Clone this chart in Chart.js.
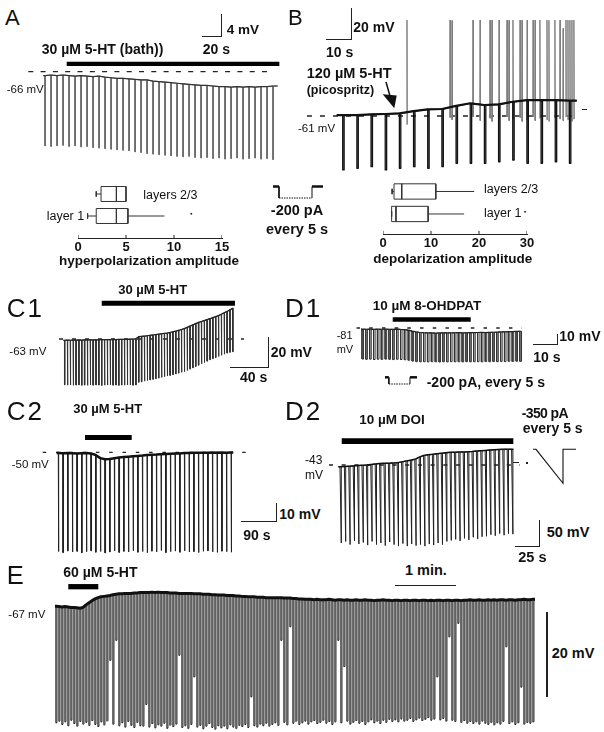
<!DOCTYPE html>
<html>
<head>
<meta charset="utf-8">
<script src="https://cdn.jsdelivr.net/npm/chart.js@4.4.1/dist/chart.umd.min.js"></script>
<style>
  html, body { margin: 0; padding: 0; background: #fff; }
  #fig { position: relative; width: 604px; height: 732px; overflow: hidden; color: #111;
         font-family: 'Liberation Sans', Arial, Helvetica, sans-serif; }
  #fig canvas { position: absolute; }
  .t { position: absolute; white-space: nowrap; line-height: 1; }
  .b { font-weight: bold; }
  .sb { position: absolute; background: #222; }
</style>
</head>
<body>
<div id="fig">
  <!-- A -->
  <div class="t" style="left:5px;top:6.5px;font-size:22px">A</div>
  <div class="t b" style="left:41.7px;top:41.5px;font-size:14px">30 µM 5-HT (bath))</div>
  <div class="t b" style="left:226.7px;top:23.2px;font-size:13.5px">4 mV</div>
  <div class="t b" style="left:202.7px;top:41.5px;font-size:14px">20 s</div>
  <div class="t" style="left:6.7px;top:83.5px;font-size:11.5px">-66 mV</div>
  <div class="sb" style="left:221px;top:14px;width:1.3px;height:22.3px"></div>
  <div class="sb" style="left:202.3px;top:35.5px;width:20px;height:1.3px"></div>

  <!-- B -->
  <div class="t" style="left:288px;top:7px;font-size:22px">B</div>
  <div class="t b" style="left:353.3px;top:20px;font-size:14px">20 mV</div>
  <div class="t b" style="left:326px;top:45px;font-size:14px">10 s</div>
  <div class="t b" style="left:306.7px;top:66.4px;font-size:14.5px">120 µM 5-HT</div>
  <div class="t b" style="left:306.7px;top:84.4px;font-size:12.5px">(picospritz)</div>
  <div class="t" style="left:298px;top:122.5px;font-size:11.5px">-61 mV</div>
  <div class="sb" style="left:351px;top:8.3px;width:1.3px;height:31px"></div>
  <div class="sb" style="left:326px;top:38.8px;width:26.3px;height:1.3px"></div>
  <div class="sb" style="left:582px;top:108.5px;width:5px;height:1.3px"></div>

  <!-- box plots -->
  <div class="t" style="left:143.3px;top:189px;font-size:12.5px">layers 2/3</div>
  <div class="t" style="left:46.7px;top:210px;font-size:12.5px">layer 1</div>
  <div class="t" style="left:484px;top:183.4px;font-size:12.5px">layers 2/3</div>
  <div class="t" style="left:484px;top:206.7px;font-size:12.5px">layer 1</div>
  <div class="t b" style="left:49px;width:200px;text-align:center;top:254.2px;font-size:13.5px">hyperpolarization amplitude</div>
  <div class="t b" style="left:352.7px;width:200px;text-align:center;top:251.5px;font-size:13.5px">depolarization amplitude</div>
  <div class="t b" style="left:247px;width:100px;text-align:center;top:203px;font-size:14.5px">-200 pA</div>
  <div class="t b" style="left:247px;width:100px;text-align:center;top:222px;font-size:14.5px">every 5 s</div>

  <!-- C1 -->
  <div class="t" style="left:6.7px;top:295px;font-size:26px;letter-spacing:2px">C1</div>
  <div class="t b" style="left:118.3px;top:283.3px;font-size:13px">30 µM 5-HT</div>
  <div class="t" style="left:9.3px;top:345.8px;font-size:11.5px">-63 mV</div>
  <div class="t b" style="left:270.7px;top:344.9px;font-size:14px">20 mV</div>
  <div class="t b" style="left:240px;top:370px;font-size:14px">40 s</div>
  <div class="sb" style="left:267.8px;top:336.7px;width:1.3px;height:31.3px"></div>
  <div class="sb" style="left:230px;top:367.2px;width:39px;height:1.3px"></div>

  <!-- C2 -->
  <div class="t" style="left:6.7px;top:398.3px;font-size:26px;letter-spacing:2px">C2</div>
  <div class="t b" style="left:73.3px;top:401.6px;font-size:13px">30 µM 5-HT</div>
  <div class="t" style="left:11.7px;top:458.5px;font-size:11.5px">-50 mV</div>
  <div class="t b" style="left:279.3px;top:506.5px;font-size:14px">10 mV</div>
  <div class="t b" style="left:243.3px;top:528px;font-size:14px">90 s</div>
  <div class="sb" style="left:275.5px;top:503.3px;width:1.3px;height:18.6px"></div>
  <div class="sb" style="left:240.7px;top:521.2px;width:36px;height:1.3px"></div>

  <!-- D1 -->
  <div class="t" style="left:285px;top:295px;font-size:26px;letter-spacing:2px">D1</div>
  <div class="t b" style="left:372.7px;top:299px;font-size:13.5px">10 µM 8-OHDPAT</div>
  <div class="t" style="left:336.7px;top:330.3px;font-size:11px">-81</div>
  <div class="t" style="left:336.7px;top:343.6px;font-size:11px">mV</div>
  <div class="t b" style="left:559.3px;top:329px;font-size:14px">10 mV</div>
  <div class="t b" style="left:533.3px;top:350px;font-size:14px">10 s</div>
  <div class="t b" style="left:426.7px;top:374.9px;font-size:14px">-200 pA, every 5 s</div>
  <div class="sb" style="left:556.8px;top:334px;width:1.3px;height:10.4px"></div>
  <div class="sb" style="left:533.3px;top:343.5px;width:24.7px;height:1.3px"></div>

  <!-- D2 -->
  <div class="t" style="left:285px;top:398.3px;font-size:26px;letter-spacing:2px">D2</div>
  <div class="t b" style="left:359.3px;top:413.3px;font-size:13.5px">10 µM DOI</div>
  <div class="t b" style="left:521.7px;top:406.4px;font-size:14px;letter-spacing:-0.6px">-350 pA</div>
  <div class="t b" style="left:522.7px;top:421px;font-size:14px">every 5 s</div>
  <div class="t" style="left:305px;top:453.5px;font-size:12px">-43</div>
  <div class="t" style="left:305px;top:468.5px;font-size:12px">mV</div>
  <div class="t b" style="left:546.7px;top:524.8px;font-size:14.5px">50 mV</div>
  <div class="t b" style="left:518.3px;top:549.8px;font-size:14.5px">25 s</div>
  <div class="sb" style="left:538.8px;top:520px;width:1.3px;height:26.3px"></div>
  <div class="sb" style="left:515px;top:545.7px;width:25px;height:1.3px"></div>
  <div class="sb" style="left:513px;top:462px;width:6px;height:1.3px"></div>
  <div class="sb" style="left:526px;top:462px;width:1.5px;height:1.5px"></div>

  <!-- E -->
  <div class="t" style="left:6.7px;top:563.4px;font-size:25.5px">E</div>
  <div class="t b" style="left:63.3px;top:564.9px;font-size:14px">60 µM 5-HT</div>
  <div class="t" style="left:8.3px;top:608.5px;font-size:11.5px">-67 mV</div>
  <div class="t b" style="left:405px;top:563px;font-size:14.5px">1 min.</div>
  <div class="t b" style="left:551.7px;top:646.4px;font-size:14.5px">20 mV</div>
  <div class="sb" style="left:395px;top:584.5px;width:60.7px;height:1.3px"></div>
  <div class="sb" style="left:546px;top:611.7px;width:1.5px;height:85px"></div>

  <!-- picospritz arrow in B -->
  <svg width="604" height="732" style="position:absolute;left:0;top:0;pointer-events:none">
    <line x1="386" y1="82" x2="390" y2="96" stroke="#111" stroke-width="1.5"/>
    <polygon points="382.7,94.3 396.7,95.5 394.3,108.3" fill="#111"/>
  </svg>
</div>

<script>
// ---- data ----
// A: bath 5-HT, one hyperpolarising pulse per sweep (mV)
const aBase = [-66.7,-66.6,-66.7,-66.6,-66.7,-66.8,-66.7,-66.8,-66.9,-66.8,-67.0,-67.1,-67.2,
  -67.2,-67.3,-67.4,-67.5,-67.5,-67.7,-67.8,-67.9,-68.0,-68.1,-68.2,-68.3,-68.4,
  -68.5,-68.5,-68.6,-68.7,-68.7,-68.8,-68.7,-68.8,-68.7,-68.8,-68.7,-68.7,-68.6];
const aTrough = [-79.5,-79.6,-79.5,-79.4,-79.6,-79.5,-79.7,-79.6,-79.8,-79.9,-80.0,-80.1,-80.2,
  -80.3,-80.4,-80.6,-80.7,-80.9,-81.0,-81.1,-81.2,-81.3,-81.4,-81.5,-81.4,-81.6,
  -81.7,-81.6,-81.8,-81.7,-81.9,-81.8,-81.7,-81.9,-81.8,-81.7,-81.9,-81.8,-82.0];
const aStart = 1.4, aPeriod = 5, aEnd = 195.3;
const aDrug = [19.5, 196.7];
const aRef = [-12.5, 187];

// B: picospritz 5-HT, pulses + action potentials
const bBase = [-60.4,-60.4,-59.9,-59.7,-59.3,-57.8,-56.7,-56.5,-54.5,-52.8,-53.9,-53.5,-51.8,-50.7,-50.7,-50.7,-51.1];
const bTrough = [-95.8,-94.7,-93.7,-95.8,-94.7,-93.7,-94.7,-93.7,-91.5,-91.5,-91.5,-90.5,-89.4,-91.5,-91.5,-90.5,-91.5];
const bApT = [24.8,40.0,40.7,48.1,50.6,54.1,54.8,57.3,60.1,60.8,62.2,64.7,65.4,67.2,69.3,70.0,71.7,74.2,74.9,77.0,78.8,79.9,80.9,81.6,82.3,83.0,83.7];
const bApPeak = [0.9,0.9,0.6,0.9,0.9,0.8,0.9,0.9,0.9,0.7,0.9,0.9,0.8,0.9,0.9,0.9,0.9,0.9,0.8,0.9,0.9,-4.4,0.9,0.9,0.8,0.9,0.9];
const bApFoot = [-66.5,-62.0,-63.5,-61.5,-64.0,-62.5,-64.5,-63.0,-61.5,-64.0,-63.0,-62.0,-64.5,-63.5,-61.5,-64.0,-62.5,-63.5,-64.5,-62.0,-63.0,-64.0,-61.5,-63.5,-62.5,-64.5,-63.0];
const bStart = 2.12, bPeriod = 5, bEnd = 84.7;
const bRef = [-10.5, 84.5];

// box plots (amplitudes, mV); row 0 = layers 2/3, row 1 = layer 1
const boxRows = ['layers 2/3', 'layer 1'];
const hypLo = [1.9, 1.0], hypQ1 = [2.4, 1.9], hypMed = [4.0, 4.0], hypQ3 = [5.0, 5.2], hypHi = [5.0, 9.0], hypOut = [null, 11.8];
const depLo = [1.9, 1.8], depQ1 = [2.3, 1.8], depMed = [3.9, 2.7], depQ3 = [11.0, 9.4], depHi = [19.0, 16.9], depOut = [null, 29.6];
const hypTicks = [0, 5, 10, 15];
const depTicks = [0, 10, 20, 30];

// current protocols (pA)
const stepT = [0, 6, 6, 39, 39, 50];
const stepI = [0, 0, -200, -200, 0, 0];
const rampT = [0, 3, 30, 30, 43];
const rampI = [0, 0, -350, 0, 0];

// C1
const c1Base = [-63.8,-63.7,-63.8,-63.7,-63.7,-63.6,-63.7,-63.6,-63.6,-63.5,
  -63.6,-63.5,-63.5,-63.4,-63.5,-63.4,-63.4,-63.3,-63.4,-63.3,
  -63.2,-63.3,-63.2,-63.1,-63.0,-62.9,-61.5,-61.3,-61.1,-60.9,
  -60.6,-60.4,-60.1,-59.9,-59.6,-59.4,-59.2,-58.8,-58.3,-57.9,
  -57.4,-56.9,-56.3,-55.5,-54.7,-53.9,-53.1,-52.3,-51.7,-51.1,
  -50.5,-49.9,-49.2,-48.6,-47.9,-47.0,-46.1,-45.2,-44.2,-43.2];
const c1Trough = [-92.6,-92.8,-92.7,-92.9,-92.7,-92.6,-92.8,-92.7,-92.9,-92.7,
  -92.8,-92.6,-92.7,-92.9,-92.8,-92.7,-92.6,-92.8,-92.7,-92.9,
  -92.7,-92.8,-92.6,-92.7,-92.8,-92.6,-90.9,-90.6,-90.2,-89.8,
  -89.4,-89.0,-88.6,-88.2,-87.8,-87.3,-86.9,-86.5,-86.0,-85.5,
  -85.0,-84.5,-84.1,-83.3,-82.4,-81.6,-80.7,-79.9,-79.0,-78.2,
  -77.3,-76.4,-75.7,-75.0,-74.3,-73.5,-72.8,-72.1,-71.6,-71.2];
const c1Start = 2.1, c1Period = 5, c1End = 298.2;
const c1Drug = [67.4, 301.2];
const c1Ref = [-7.5, 317];

// C2
const c2Base = [-50.4,-50.5,-50.4,-50.5,-50.6,-50.5,-50.4,-50.6,
  -51.5,-53.2,-53.8,-53.7,-53.2,-52.8,-52.6,
  -52.4,-52.2,-52.0,-51.8,-51.5,-51.3,-51.2,-51.0,
  -50.9,-50.8,-50.7,-50.6,-50.4,-50.4,-50.3,-50.3,
  -50.2,-50.2,-50.1,-50.2,-50.1,-50.2,-50.1];
const c2Trough = [-104.2,-104.8,-103.9,-104.5,-104.1,-104.9,-104.3,-103.8,-104.6,-104.2,
  -105.0,-104.4,-103.9,-104.7,-104.1,-104.5,-103.8,-104.6,-104.2,-104.9,
  -104.0,-104.4,-103.7,-104.8,-104.3,-104.0,-104.6,-103.9,-104.5,-104.2,
  -104.8,-104.1,-103.8,-104.4,-104.7,-104.0,-104.3,-104.6];
const c2Start = 1.7, c2Period = 5, c2End = 189;
const c2Drug = [30.3, 80.3];
const c2Ref = [-15, 203.7];

// D1
const d1Base = [-82.2,-82.4,-82.3,-82.5,-82.3,-82.4,-82.2,-82.4,-82.5,-82.3,
  -82.6,-82.8,-83.3,-84.4,-85.4,-86.0,-86.3,-86.5,-86.4,-86.6,
  -86.5,-86.3,-86.4,-86.5,-86.3,-86.2,-86.4,-86.3,-86.1,-86.2,
  -86.0,-85.9,-86.1,-85.8,-85.7,-85.6,-85.4,-85.3,-85.1,-85.0,
  -84.8,-84.6];
const d1Trough = [-115.5,-115.8,-115.6,-116.0,-115.7,-115.9,-115.6,-115.8,-116.1,-115.7,
  -116.0,-116.3,-116.9,-117.8,-118.4,-118.6,-118.5,-118.7,-118.4,-118.6,
  -118.8,-118.5,-118.7,-118.4,-118.6,-118.5,-118.7,-118.4,-118.6,-118.5,
  -118.4,-118.6,-118.3,-118.5,-118.2,-118.4,-118.1,-118.3,-118.0,-118.2,
  -117.9,-118.1];
const d1Start = 1.3, d1Period = 5, d1End = 208.7;
const d1Drug = [41.2, 142.5];
const d1Ref = [-5.8, 209];

// D2 (ramp pulses)
const d2Base = [-46.3,-45.8,-45.2,-44.7,-44.1,-43.6,-43.0,-42.0,-41.0,-40.1,
  -39.8,-39.5,-39.1,-38.6,-37.0,-35.4,-33.7,-32.1,-28.0,-24.5,
  -23.5,-22.5,-21.3,-20.5,-19.6,-18.7,-18.4,-18.1,-17.8,-17.5,
  -17.0,-16.2,-15.5,-14.9,-14.2,-13.5,-13.0,-12.8,-12.7,-12.8];
const d2Trough = [-193,-190,-196,-189,-195,-192,-197,-190,-196,-193,
  -198,-191,-196,-199,-194,-199,-195,-198,-196,-199,
  -195,-197,-193,-196,-190,-188,-186,-189,-184,-187,
  -182,-185,-181,-180,-177,-179,-175,-178,-175,-176];
const d2Start = 1.9, d2Period = 5, d2End = 198.9;
const d2Drug = [3.9, 198.9];
const d2Ref = [-10.6, 206.5];

// E
const eBase = [-66.8,-66.9,-67.0,-66.9,-67.0,-67.1,-67.1,-67.2,-67.3,-67.1,
  -66.5,-66.0,-65.5,-65.1,-64.8,-64.6,-64.5,-64.4,-64.3,-64.1,
  -64.0,-63.9,-63.9,-63.8,-63.8,-63.8,-63.7,-63.7,-63.6,-63.6,
  -63.6,-63.6,-63.5,-63.6,-63.5,-63.6,-63.6,-63.6,-63.7,-63.7,
  -63.7,-63.8,-63.8,-63.8,-63.8,-63.8,-63.9,-63.9,-63.9,-64.0,
  -64.0,-64.0,-64.1,-64.1,-64.2,-64.2,-64.2,-64.3,-64.3,-64.3,
  -64.4,-64.4,-64.5,-64.5,-64.6,-64.6,-64.6,-64.7,-64.7,-64.7,
  -64.8,-64.8,-64.8,-64.8,-64.8,-64.8,-64.9,-64.9,-64.9,-65.0,
  -65.0,-65.1,-65.1,-65.2,-65.2,-65.2,-65.3,-65.2,-65.3,-65.3,
  -65.3,-65.2,-65.3,-65.4,-65.3,-65.3,-65.4,-65.3,-65.4,-65.4,
  -65.3,-65.4,-65.4,-65.3,-65.4,-65.4,-65.5,-65.4,-65.4,-65.3,
  -65.4,-65.4,-65.5,-65.4,-65.4,-65.5,-65.4,-65.4,-65.5,-65.4,
  -65.4,-65.5,-65.4,-65.4,-65.5,-65.4,-65.5,-65.4,-65.4,-65.5,
  -65.4,-65.4,-65.5,-65.4,-65.4,-65.5,-65.4,-65.4,-65.3,-65.4,
  -65.4,-65.3,-65.4,-65.4,-65.3,-65.4,-65.3,-65.4,-65.3,-65.3,
  -65.4,-65.3,-65.3,-65.4,-65.3,-65.3,-65.2,-65.3,-65.3,-65.2];
const eTrough = [-94.2,-93.8,-94.6,-94.0,-94.9,-93.6,-94.4,-95.0,-93.9,-94.5,-94.1,-94.8,-93.7,-94.6,-95.1,-94.0,-94.7,-93.8,-79.5,-94.5,
  -74.8,-94.9,-94.2,-95.2,-93.9,-94.8,-95.3,-94.1,-94.9,-95.0,-89.9,-95.2,-94.4,-95.4,-94.7,-95.0,-94.3,-95.5,-94.8,-95.1,
  -94.5,-78.3,-95.3,-94.9,-95.5,-94.6,-83.4,-95.2,-94.8,-95.6,-95.0,-94.4,-95.3,-95.7,-94.9,-95.4,-95.0,-95.6,-94.7,-95.2,
  -95.5,-94.8,-95.1,-94.6,-95.3,-88.1,-94.9,-95.2,-94.5,-94.9,-94.3,-95.0,-94.6,-94.2,-94.8,-74.8,-94.1,-94.7,-71.6,-94.3,
  -93.9,-94.6,-94.2,-93.8,-94.5,-94.0,-93.7,-94.4,-94.1,-93.6,-94.3,-93.9,-94.6,-94.0,-74.8,-94.2,-81.0,-93.8,-94.5,-94.1,
  -93.7,-94.3,-93.9,-94.6,-94.0,-93.5,-94.2,-93.8,-94.4,-93.6,-94.1,-93.4,-93.9,-93.5,-94.0,-93.3,-93.8,-93.6,-93.2,-93.9,
  -93.5,-93.1,-93.7,-93.4,-93.0,-93.6,-93.3,-83.4,-93.5,-93.2,-93.8,-74.0,-93.6,-93.9,-70.8,-94.1,-93.7,-94.3,-93.9,-94.4,
  -94.0,-94.5,-93.8,-94.3,-94.6,-94.1,-94.7,-94.2,-94.5,-93.9,-76.3,-94.4,-94.0,-94.6,-94.2,-85.8,-94.5,-94.1,-94.3,-94.0];
const eStart = 1, ePeriod = 3, eEnd = 480;
const eDrug = [13.3, 43.3];

// ---- page layout (pixel calibration of each panel) ----
const calA  = { box: { l: 25,  t: 55,  w: 265, h: 112 }, x0: 43.3,  pxS: 1.2,   yRef: 71.7,  vRef: -66, pxMv: 5.5,  barY: 63.85, barW: 4.3, pw: 0.3 };
const calB  = { box: { l: 300, t: 12,  w: 295, h: 165 }, x0: 336.7, pxS: 2.834, yRef: 116,   vRef: -61, pxMv: 1.55, pw: 0.5 };
const calC1 = { box: { l: 50,  t: 296, w: 205, h: 95  }, x0: 63.3,  pxS: 0.57,  yRef: 339,   vRef: -63, pxMv: 1.55, barY: 303.2, barW: 5,   pw: 1.0 };
const calC2 = { box: { l: 38,  t: 430, w: 212, h: 128 }, x0: 56.7,  pxS: 0.934, yRef: 452.3, vRef: -50, pxMv: 1.83, barY: 437.5, barW: 5,   pw: 0.6 };
const calD1 = { box: { l: 350, t: 312, w: 190, h: 55  }, x0: 361,   pxS: 0.77,  yRef: 328,   vRef: -81, pxMv: 0.9,  barY: 319.5, barW: 4.4, pw: 2.0 };
const calD2 = { box: { l: 325, t: 433, w: 200, h: 120 }, x0: 338.3, pxS: 0.88,  yRef: 465,   vRef: -43, pxMv: 0.52, barY: 441.2, barW: 5.7, pw: 1.5 };
const calE  = { box: { l: 45,  t: 578, w: 498, h: 154 }, x0: 55,    pxS: 1.0,   yRef: 607,   vRef: -67, pxMv: 4.25, barY: 586.7, barW: 5.3, pw: 1.0 };
const calStep1 = { box: { l: 268, t: 182, w: 60, h: 20 }, x0: 273, pxS: 1.0,  yRef: 186.5, vRef: 0, pxMv: 0.0575 };
const calStep2 = { box: { l: 381, t: 373, w: 40, h: 15 }, x0: 385, pxS: 0.64, yRef: 377.3, vRef: 0, pxMv: 0.0335 };
const calRamp  = { box: { l: 529, t: 445, w: 52, h: 42 }, x0: 533, pxS: 1.0,  yRef: 449.3, vRef: 0, pxMv: 0.0971 };
const calHyp = { x0: 78,  pxU: 9.6, xMax: 15, axisY: 238, rowPx: 22,   axisV: 3.0,  w: 172, h: 80 };
const calDep = { x0: 383, pxU: 4.8, xMax: 30, axisY: 234, rowPx: 22.5, axisV: 2.89, w: 172, h: 80 };

const FONT = "'Liberation Sans', Arial, Helvetica, sans-serif";
Chart.defaults.font.family = FONT;
Chart.defaults.animation = false;
const fig = document.getElementById('fig');

function lineDs(data, color, width, extra) {
  return Object.assign({ data, borderColor: color, borderWidth: width, pointRadius: 0, fill: false,
    tension: 0, borderJoinStyle: 'round', spanGaps: false }, extra || {});
}

function mvAt(cal, py) { return cal.vRef + (cal.yRef - py) / cal.pxMv; }

// trace: baseline -> step down to trough -> back, once per pulse
function pulseTrace(base, trough, start, period, width, end, ramp) {
  const pts = [{ x: 0, y: base[0] }];
  base.forEach((b, i) => {
    const t = start + i * period;
    pts.push({ x: t, y: b });
    if (!ramp) pts.push({ x: t, y: trough[i] });
    pts.push({ x: t + width, y: trough[i] }, { x: t + width, y: b });
  });
  pts.push({ x: end, y: base[base.length - 1] });
  return pts;
}

function baseline(base, start, period, end) {
  return [{ x: 0, y: base[0] }].concat(base.map((b, i) => ({ x: start + i * period, y: b })),
    [{ x: end, y: base[base.length - 1] }]);
}

function drugBar(cal, span) {
  const v = mvAt(cal, cal.barY);
  return lineDs([{ x: span[0], y: v }, { x: span[1], y: v }], '#000', cal.barW, { borderCapStyle: 'butt' });
}

function refLine(cal, span, dash) {
  return lineDs([{ x: span[0], y: cal.vRef }, { x: span[1], y: cal.vRef }], '#222', 1.3, { borderDash: dash });
}

function traceChart(cal, datasets) {
  const c = document.createElement('canvas');
  const b = cal.box;
  c.width = b.w; c.height = b.h;
  c.style.cssText = `left:${b.l}px;top:${b.t}px;width:${b.w}px;height:${b.h}px`;
  fig.insertBefore(c, fig.firstChild);
  const xMin = (b.l - cal.x0) / cal.pxS;
  const yMax = cal.vRef + (cal.yRef - b.t) / cal.pxMv;
  return new Chart(c, {
    type: 'line',
    data: { datasets },
    options: {
      responsive: false, events: [],
      layout: { padding: 0 },
      plugins: { legend: { display: false }, tooltip: { enabled: false } },
      scales: {
        x: { type: 'linear', display: false, min: xMin, max: xMin + b.w / cal.pxS },
        y: { type: 'linear', display: false, min: yMax - b.h / cal.pxMv, max: yMax }
      }
    }
  });
}

// ---- traces ----
traceChart(calA, [
  drugBar(calA, aDrug),
  lineDs(baseline(aBase, aStart, aPeriod, aEnd), '#333', 1.2),
  lineDs(pulseTrace(aBase, aTrough, aStart, aPeriod, calA.pw, aEnd), '#6a6a6a', 1),
  refLine(calA, aRef, [5, 7.3])
]);

const bAps = [];
bApT.forEach((t, i) => {
  bAps.push({ x: t - 0.12, y: bApFoot[i] }, { x: t, y: bApPeak[i] }, { x: t + 0.12, y: bApFoot[i] }, { x: t + 0.12, y: null });
});
traceChart(calB, [
  lineDs(baseline(bBase, bStart, bPeriod, bEnd), '#111', 2.2),
  lineDs(pulseTrace(bBase, bTrough, bStart, bPeriod, calB.pw, bEnd), '#111', 1.3),
  lineDs(bAps, '#808080', 1),
  refLine(calB, bRef, [5, 8])
]);

traceChart(calC1, [
  drugBar(calC1, c1Drug),
  lineDs(baseline(c1Base, c1Start, c1Period, c1End), '#222', 1.2),
  lineDs(pulseTrace(c1Base, c1Trough, c1Start, c1Period, calC1.pw, c1End), '#333', 1),
  refLine(calC1, c1Ref, [4, 9])
]);

traceChart(calC2, [
  drugBar(calC2, c2Drug),
  lineDs(baseline(c2Base, c2Start, c2Period, c2End), '#111', 2.5),
  lineDs(pulseTrace(c2Base, c2Trough, c2Start, c2Period, calC2.pw, c2End), '#222', 1),
  refLine(calC2, c2Ref, [3.5, 9.8])
]);

traceChart(calD1, [
  drugBar(calD1, d1Drug),
  lineDs(baseline(d1Base, d1Start, d1Period, d1End), '#222', 1.2),
  lineDs(pulseTrace(d1Base, d1Trough, d1Start, d1Period, calD1.pw, d1End), '#333', 1),
  refLine(calD1, d1Ref, [3.5, 9.2])
]);

traceChart(calD2, [
  drugBar(calD2, d2Drug),
  lineDs(baseline(d2Base, d2Start, d2Period, d2End), '#111', 1.5),
  lineDs(pulseTrace(d2Base, d2Trough, d2Start, d2Period, calD2.pw, d2End, true), '#222', 1),
  refLine(calD2, d2Ref, [4, 8.7])
]);

// E: falling edge dark, rising edge lighter, as in the scanned trace
const eEdge = { borderColor: c => (c.p0.parsed.y > c.p1.parsed.y + 5 ? '#0d0d0d'
                                   : c.p1.parsed.y > c.p0.parsed.y + 5 ? '#5a5a5a' : '#222') };
traceChart(calE, [
  drugBar(calE, eDrug),
  lineDs(baseline(eBase, eStart, ePeriod, eEnd), '#111', 3),
  lineDs(pulseTrace(eBase, eTrough, eStart, ePeriod, calE.pw, eEnd), '#222', 1.2, { segment: eEdge })
]);

// ---- current protocol icons ----
const stepPts = stepT.map((t, i) => ({ x: t, y: stepI[i] }));
const stepSeg = { borderWidth: c => (c.p0.parsed.y === 0 && c.p1.parsed.y === 0 ? 2.5 : 1),
                  borderDash: c => (c.p0.parsed.y < 0 && c.p1.parsed.y < 0 ? [1.5, 1] : undefined) };
traceChart(calStep1, [lineDs(stepPts, '#111', 1, { segment: stepSeg, borderJoinStyle: 'miter' })]);
traceChart(calStep2, [lineDs(stepPts, '#111', 1, { segment: stepSeg, borderJoinStyle: 'miter' })]);
traceChart(calRamp, [lineDs(rampT.map((t, i) => ({ x: t, y: rampI[i] })), '#111', 1.1, { borderJoinStyle: 'miter' })]);

// ---- box plots ----
function boxChart(cal, lo, q1, med, q3, hi, out, ticks) {
  const c = document.createElement('canvas');
  c.width = cal.w; c.height = cal.h;
  c.style.width = cal.w + 'px'; c.style.height = cal.h + 'px';
  fig.insertBefore(c, fig.firstChild);
  const h = 0.34, cap = 0.12;
  const datasets = [];
  boxRows.forEach((name, i) => {
    const v = i + 1;
    const pts = [
      { x: q1[i], y: v - h }, { x: q3[i], y: v - h }, { x: q3[i], y: v + h }, { x: q1[i], y: v + h }, { x: q1[i], y: v - h }, { x: q1[i], y: null },
      { x: med[i], y: v - h }, { x: med[i], y: v + h }, { x: med[i], y: null },
      { x: lo[i], y: v }, { x: q1[i], y: v }, { x: q1[i], y: null },
      { x: lo[i], y: v - cap }, { x: lo[i], y: v + cap }, { x: lo[i], y: null },
      { x: q3[i], y: v }, { x: hi[i], y: v }
    ];
    datasets.push(lineDs(pts, '#333', 1, { label: name, borderJoinStyle: 'miter' }));
    if (out[i] !== null) {
      datasets.push({ data: [{ x: out[i], y: v - 0.1 }], showLine: false, pointRadius: 1, pointBorderWidth: 0,
        pointBackgroundColor: '#333' });
    }
  });
  const tickPts = [];
  ticks.forEach(t => tickPts.push({ x: t, y: cal.axisV }, { x: t, y: cal.axisV - 0.14 }, { x: t, y: null }));
  datasets.push(lineDs(tickPts, '#222', 1));

  const chart = new Chart(c, {
    type: 'line',
    data: { datasets },
    options: {
      responsive: false, events: [],
      layout: { padding: { left: 14, right: 14, top: 0, bottom: 0 } },
      plugins: { legend: { display: false }, tooltip: { enabled: false } },
      scales: {
        x: {
          type: 'linear', position: 'bottom', min: 0, max: cal.xMax,
          afterBuildTicks: s => { s.ticks = ticks.map(v => ({ value: v })); },
          grid: { display: false, drawTicks: false },
          border: { display: true, color: '#222', width: 1 },
          ticks: { color: '#111', padding: 3, maxRotation: 0, autoSkip: false,
                   font: { size: 13, weight: 'bold', lineHeight: 1 } }
        },
        y: { type: 'linear', display: false, reverse: true, min: 0, max: cal.axisV }
      }
    }
  });
  const a = chart.chartArea;
  c.style.left = (cal.x0 - a.left) + 'px';
  c.style.top = (cal.axisY - a.bottom) + 'px';
  chart.options.scales.y.min = cal.axisV - (a.bottom - a.top) / cal.rowPx;
  chart.options.scales.x.max = (a.right - a.left) / cal.pxU;
  chart.update('none');
  return chart;
}

boxChart(calHyp, hypLo, hypQ1, hypMed, hypQ3, hypHi, hypOut, hypTicks);
boxChart(calDep, depLo, depQ1, depMed, depQ3, depHi, depOut, depTicks);
</script>
</body>
</html>
